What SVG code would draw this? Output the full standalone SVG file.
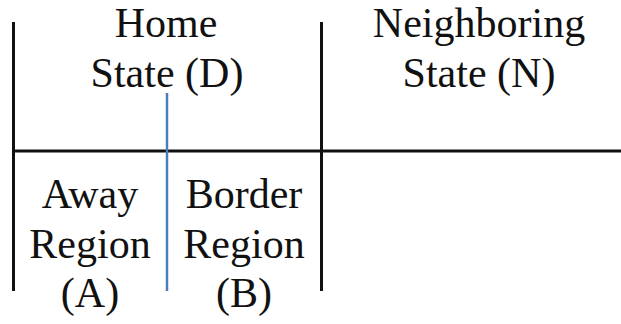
<svg xmlns="http://www.w3.org/2000/svg" width="621" height="324" viewBox="0 0 621 324">
<style>
.t{font-family:"Liberation Serif","Times New Roman",serif;font-size:42px;fill:#111;text-anchor:middle}
.k{stroke:#111;stroke-width:3;fill:none}
.b{stroke:#4a7ebb;stroke-width:2.5;fill:none}
</style>
<rect width="621" height="324" fill="#fff"/>
<g id="connectors">
<line class="k" x1="13.5" y1="22" x2="13.5" y2="291"/>
<line class="k" x1="321.5" y1="22" x2="321.5" y2="291"/>
<line class="k" x1="12" y1="151" x2="621" y2="151"/>
<line class="b" x1="167" y1="93" x2="167" y2="291"/>
</g>
<g id="home"><text class="t" x="166" y="37">Home</text><text class="t" x="167" y="87">State (D)</text></g>
<g id="neighbor"><text class="t" x="479" y="37">Neighboring</text><text class="t" x="479" y="87">State (N)</text></g>
<g id="away"><text class="t" x="90" y="208">Away</text><text class="t" x="90" y="258">Region</text><text class="t" x="90" y="307">(A)</text></g>
<g id="border"><text class="t" x="244" y="208">Border</text><text class="t" x="244" y="258">Region</text><text class="t" x="244" y="307">(B)</text></g>
</svg>
